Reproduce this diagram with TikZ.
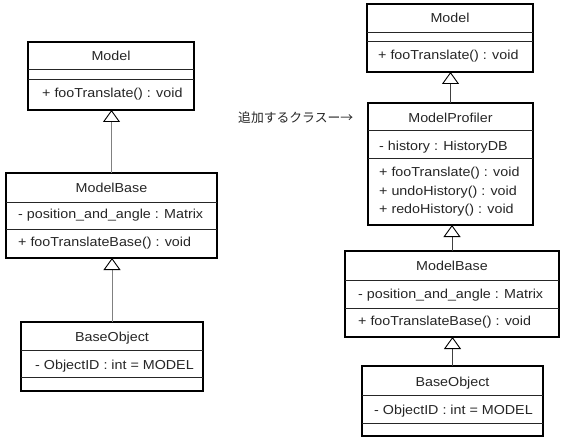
\documentclass[tikz,border=0pt]{standalone}
\usepackage{fontspec}
\setmainfont{Liberation Sans}[FakeStretch=1.1]
\newfontfamily\cjk{Noto Sans CJK JP}
\usetikzlibrary{arrows.meta,calc}
\tikzset{
  x=1pt,y=-1pt,
  classbox/.style={draw=black,line width=1.6pt,fill=white,rectangle,anchor=north west,inner sep=0pt,outer sep=0pt},
  divider/.style={draw=black!85,line width=0.8pt},
  txt/.style={inner sep=0pt,text=black!85,font=\fontsize{13}{15}\selectfont},
  ttl/.style={txt,anchor=base},
  mem/.style={txt,anchor=base west},
  inheritL/.style={draw=gray,line width=1pt,-{Triangle[open,fill=white,color=black,length=12pt,width=17pt,line width=0.9pt]}},
  inheritR/.style={draw=black!75,line width=1pt,-{Triangle[open,fill=white,color=black,length=12pt,width=17pt,line width=0.9pt]}},
}
\newcommand{\divs}[3]{%
  \draw[divider] ($(#1.north west)+(0,#2)$) -- ($(#1.north east)+(0,#2)$);
  \draw[divider] ($(#1.north west)+(0,#3)$) -- ($(#1.north east)+(0,#3)$);}
\begin{document}
\begin{tikzpicture}
\useasboundingbox (0,0) rectangle (567,441);
% ---------- left ----------
\node[classbox,minimum width=166pt,minimum height=68pt] (m1) at (28,42) {};
\divs{m1}{27}{37}
\node[ttl] (m1n) at ($(m1.north)+(0,18.5)$) {Model};
\node[mem] (m1a) at (42,97.5) {+ fooTranslate() : void};

\node[classbox,minimum width=211pt,minimum height=85pt] (mb1) at (6,173) {};
\divs{mb1}{29}{56}
\node[ttl] (mb1n) at ($(mb1.north)+(0,19.7)$) {ModelBase};
\node[mem] (mb1a) at (18,218) {- position\_and\_angle : Matrix};
\node[mem] (mb1b) at (18,246.7) {+ fooTranslateBase() : void};

\node[classbox,minimum width=182pt,minimum height=69pt] (bo1) at (21,322) {};
\divs{bo1}{28}{55}
\node[ttl] (bo1n) at ($(bo1.north)+(0,19.7)$) {BaseObject};
\node[mem] (bo1a) at (35,369) {- ObjectID : int = MODEL};

\draw[inheritL] (mb1.north) -- (mb1.north |- m1.south);
\draw[inheritL] (bo1.north) -- (bo1.north |- mb1.south);

% ---------- right ----------
\node[classbox,minimum width=166pt,minimum height=68pt] (m2) at (367,4) {};
\divs{m2}{28}{37}
\node[ttl] (m2n) at ($(m2.north)+(0,19)$) {Model};
\node[mem] (m2a) at (378,60) {+ fooTranslate() : void};

\node[classbox,minimum width=165pt,minimum height=122pt] (mp) at (368,103) {};
\divs{mp}{27}{55}
\node[ttl] (mpn) at ($(mp.north)+(0,19.7)$) {ModelProfiler};
\node[mem] (mpa) at (379,150) {- history : HistoryDB};
\node[mem] (mpb) at (379,176.7) {+ fooTranslate() : void};
\node[mem] (mpc) at (379,195) {+ undoHistory() : void};
\node[mem] (mpd) at (379,213.3) {+ redoHistory() : void};

\node[classbox,minimum width=214pt,minimum height=86pt] (mb2) at (345,251) {};
\divs{mb2}{29}{57}
\node[ttl] (mb2n) at ($(mb2.north)+(0,19)$) {ModelBase};
\node[mem] (mb2a) at (358,298) {- position\_and\_angle : Matrix};
\node[mem] (mb2b) at (358,325) {+ fooTranslateBase() : void};

\node[classbox,minimum width=181pt,minimum height=70pt] (bo2) at (362,366) {};
\divs{bo2}{29}{57}
\node[ttl] (bo2n) at ($(bo2.north)+(0,20.7)$) {BaseObject};
\node[mem] (bo2a) at (374,414) {- ObjectID : int = MODEL};

\draw[inheritR] (mp.north) -- (mp.north |- m2.south);
\draw[inheritR] (mb2.north) -- (mb2.north |- mp.south);
\draw[inheritR] (bo2.north) -- (bo2.north |- mb2.south);

\node[txt,anchor=base west,font=\fontsize{12.8}{15}\selectfont] (lbl) at (238,122) {\cjk 追加するクラスー→};
\end{tikzpicture}
\end{document}
